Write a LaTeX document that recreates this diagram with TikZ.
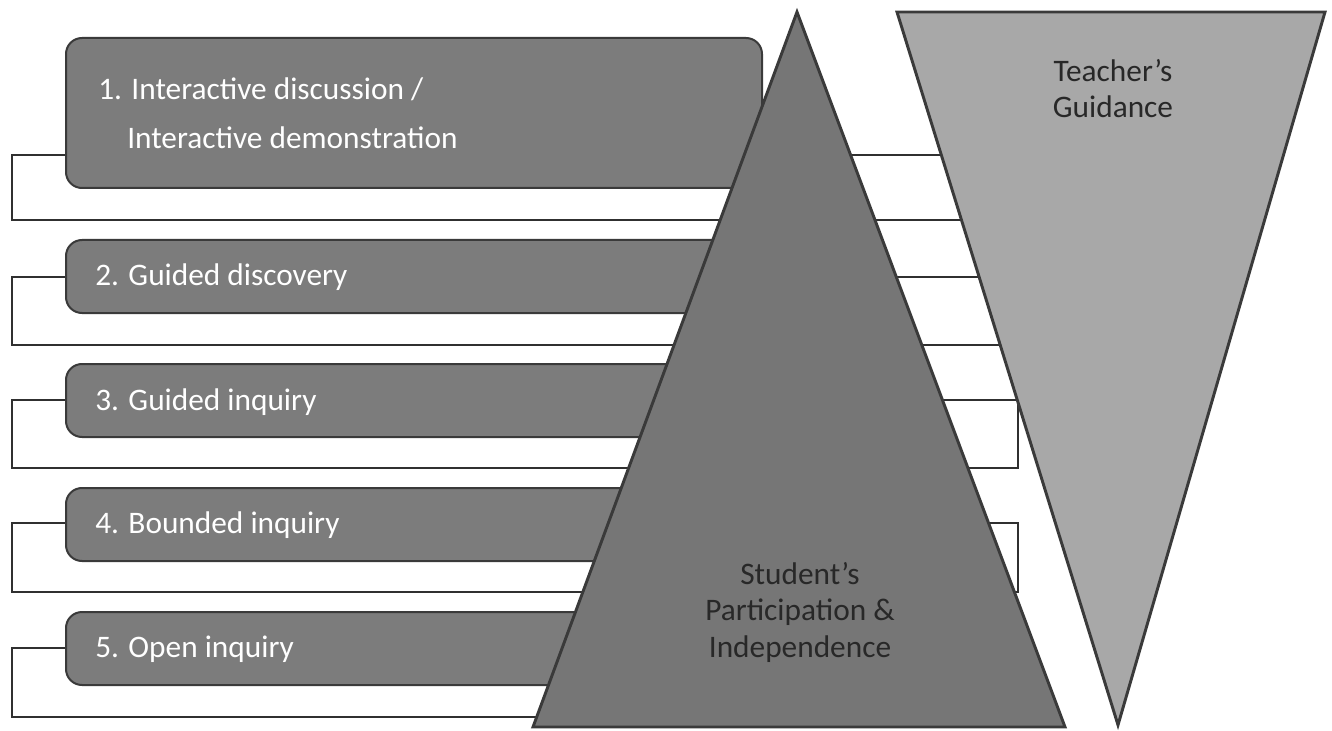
\documentclass[tikz,border=0pt]{standalone}
\usepackage{fontspec}
\setmainfont{Carlito}
\usetikzlibrary{fit}
\definecolor{boxC}{RGB}{124,124,124}
\definecolor{upC}{RGB}{118,118,118}
\definecolor{downC}{RGB}{168,168,168}
\definecolor{edgeC}{RGB}{58,58,58}
\definecolor{lineC}{RGB}{48,48,48}
\definecolor{darkT}{RGB}{40,40,40}
\begin{document}
\begin{tikzpicture}[x=0.75pt,y=-0.75pt,
  bracket/.style={draw=lineC, line width=2.2pt, line join=miter},
  box/.style={draw=edgeC, fill=boxC, rounded corners=12pt, line width=1.5pt, inner sep=0pt},
  tri/.style={draw=edgeC, line width=2.2pt, line join=miter},
  lbl/.style={font=\fontsize{23.5}{28}\selectfont, text=white, anchor=base west, inner sep=0pt},
  tlbl/.style={font=\fontsize{23.5}{28}\selectfont, text=darkT, anchor=base, inner sep=0pt}]
\useasboundingbox (0,0) rectangle (1332,731);
% boxes (named, drawn later through fit on background order)
\path (66,38) coordinate (b1nw) (762,188) coordinate (b1se);
\path (66,240) coordinate (b2nw) (762,313) coordinate (b2se);
\path (66,364) coordinate (b3nw) (762,437) coordinate (b3se);
\path (66,488) coordinate (b4nw) (762,561) coordinate (b4se);
\path (66,612) coordinate (b5nw) (762,685) coordinate (b5se);
% bracket coordinates
\coordinate (L) at (12,0);
\coordinate (R) at (1018,0);
% brackets
\draw[bracket] (66,155) -- (L |- 0,155) -- (L |- 0,220) -- (R |- 0,220) -- (R |- 0,155) -- cycle;
\draw[bracket] (66,277) -- (L |- 0,277) -- (L |- 0,345) -- (R |- 0,345) -- (R |- 0,277) -- cycle;
\draw[bracket] (66,400) -- (L |- 0,400) -- (L |- 0,468) -- (R |- 0,468) -- (R |- 0,400) -- cycle;
\draw[bracket] (66,523) -- (L |- 0,523) -- (L |- 0,592) -- (R |- 0,592) -- (R |- 0,523) -- cycle;
\draw[bracket] (66,648) -- (L |- 0,648) -- (L |- 0,717) -- (R |- 0,717) -- (R |- 0,648) -- cycle;
% boxes
\node[box, fit=(b1nw) (b1se)] (b1) {};
\node[box, fit=(b2nw) (b2se)] (b2) {};
\node[box, fit=(b3nw) (b3se)] (b3) {};
\node[box, fit=(b4nw) (b4se)] (b4) {};
\node[box, fit=(b5nw) (b5se)] (b5) {};
% upright triangle
\coordinate (ua) at (797,12);
\coordinate (ul) at (533,727);
\coordinate (ur) at (1065,727);
\draw[tri, fill=upC] (ua) -- (ur) -- (ul) -- cycle;
% inverted triangle
\coordinate (dl) at (897,12);
\coordinate (dr) at (1325,12);
\coordinate (da) at (1118,725);
\draw[tri, fill=downC] (dl) -- (dr) -- (da) -- cycle;
% texts
\node[lbl] (t1a) at (98,100) {1. Interactive discussion /};
\node[lbl] (t1b) at (127,149) {Interactive demonstration};
\node[lbl] (t2) at (95,286) {2. Guided discovery};
\node[lbl] (t3) at (95,410) {3. Guided inquiry};
\node[lbl] (t4) at (95,533) {4. Bounded inquiry};
\node[lbl] (t5) at (95,657) {5. Open inquiry};
\node[tlbl] (g1) at (1113,82) {Teacher’s};
\node[tlbl] (g2) at (1113,118) {Guidance};
\node[tlbl] (s1) at (800,584) {Student’s};
\node[tlbl] (s2) at (800,620) {Participation \&};
\node[tlbl] (s3) at (800,657) {Independence};
\end{tikzpicture}
\end{document}
